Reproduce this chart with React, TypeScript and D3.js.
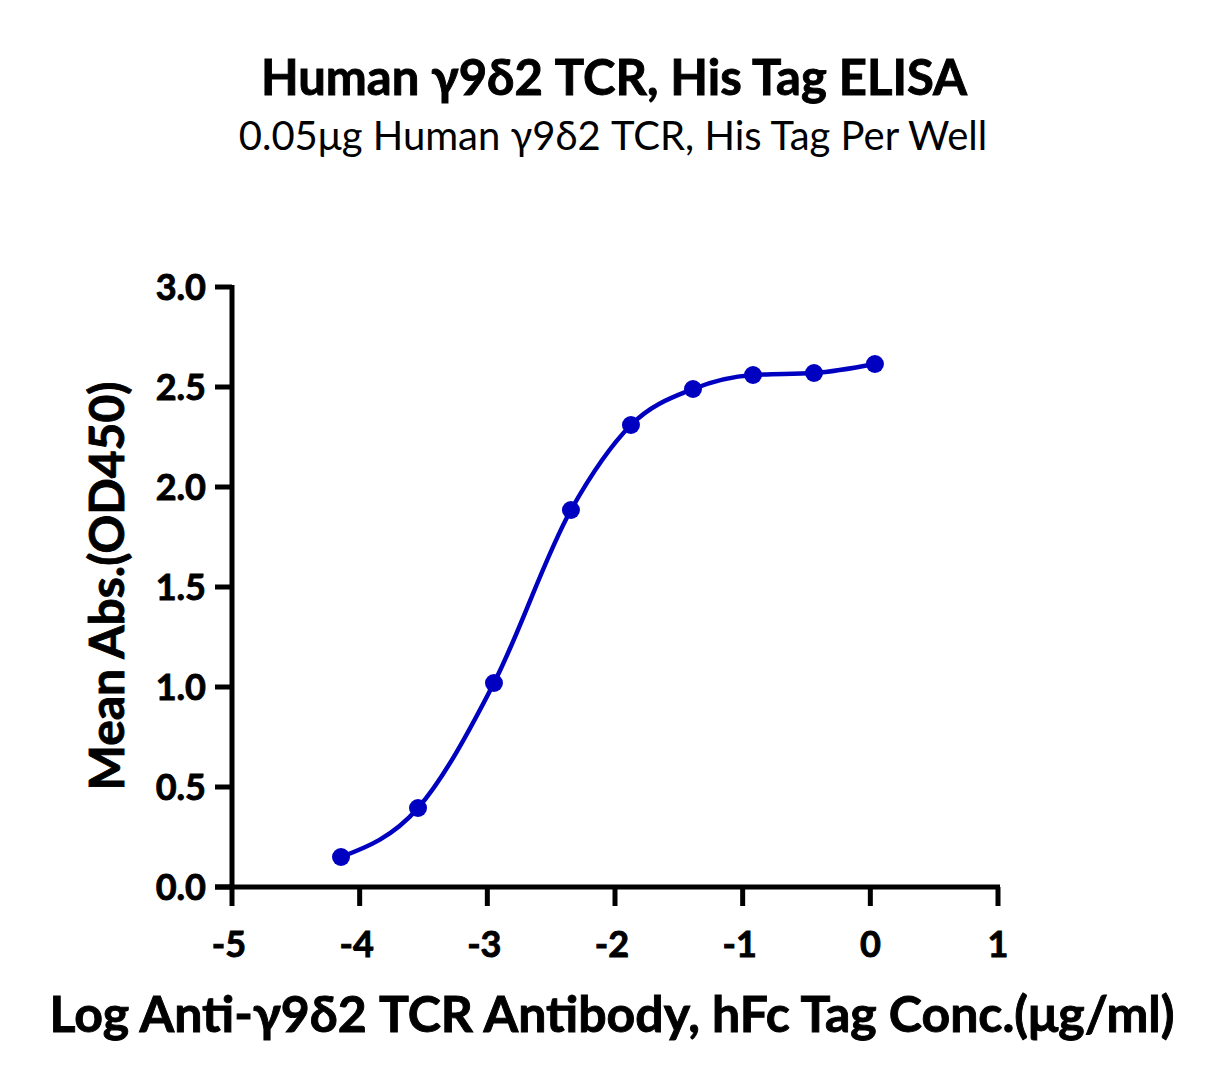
import React from "react";
import * as d3 from "d3";

const logConc = [-4.146, -3.543, -2.948, -2.345, -1.875, -1.389, -0.919, -0.441, 0.036];
const meanAbs = [0.15, 0.395, 1.02, 1.885, 2.31, 2.49, 2.56, 2.57, 2.615];
const xTicks = [-5, -4, -3, -2, -1, 0, 1];
const yTicks = [0, 0.5, 1.0, 1.5, 2.0, 2.5, 3.0];

const title = "Human γ9δ2 TCR, His Tag ELISA";
const subtitle = "0.05μg Human γ9δ2 TCR, His Tag Per Well";
const xLabel = "Log Anti-γ9δ2 TCR Antibody, hFc Tag Conc.(μg/ml)";
const yLabel = "Mean Abs.(OD450)";

const W = 1227, H = 1087;
const FONT = "Lato, 'Noto Sans', sans-serif";
const BLUE = "#0000c0";
const boldStyle = { stroke: "#000", strokeWidth: 0.9 } as const;

export default function App() {
  const x = d3.scaleLinear().domain([-5, 1]).range([232, 998]);
  const y = d3.scaleLinear().domain([0, 3]).range([887, 287]);
  const pts: [number, number][] = logConc.map((c, i) => [c, meanAbs[i]]);
  const line = d3.line<[number, number]>().x(d => x(d[0])).y(d => y(d[1])).curve(d3.curveMonotoneX);
  return (
    <svg width={W} height={H} style={{ position: "absolute", left: 0, top: 0, background: "#fff" }}>
      <text x={614} y={95} textAnchor="middle" fontFamily={FONT} fontWeight={700} fontSize={49} {...boldStyle}>{title}</text>
      <text x={613} y={150} textAnchor="middle" fontFamily={FONT} fontSize={40}>{subtitle}</text>
      {/* axes */}
      <line x1={232} x2={232} y1={285} y2={889} stroke="#000" strokeWidth={5} />
      <line x1={215} x2={1000} y1={887} y2={887} stroke="#000" strokeWidth={5} />
      {yTicks.map(t => (
        <g key={"y" + t}>
          <line x1={215} x2={232} y1={y(t)} y2={y(t)} stroke="#000" strokeWidth={5} />
          <text x={206} y={y(t) + 13} textAnchor="end" fontFamily={FONT} fontWeight={700} fontSize={36} {...boldStyle}>{t.toFixed(1)}</text>
        </g>
      ))}
      {xTicks.map(t => (
        <g key={"x" + t}>
          <line x1={x(t)} x2={x(t)} y1={887} y2={906} stroke="#000" strokeWidth={5} />
          <text x={x(t) - (t < 0 ? 3 : 0)} y={957} textAnchor="middle" fontFamily={FONT} fontWeight={700} fontSize={36} {...boldStyle}>{t}</text>
        </g>
      ))}
      <text x={612} y={1032} textAnchor="middle" fontFamily={FONT} fontWeight={700} fontSize={50} {...boldStyle}>{xLabel}</text>
      <text transform={`translate(124,586) rotate(-90)`} textAnchor="middle" fontFamily={FONT} fontWeight={700} fontSize={48} {...boldStyle}>{yLabel}</text>
      <path d={line(pts) || ""} fill="none" stroke={BLUE} strokeWidth={4.5} />
      {pts.map((p, i) => (
        <circle key={i} cx={x(p[0])} cy={y(p[1])} r={9} fill={BLUE} />
      ))}
    </svg>
  );
}
